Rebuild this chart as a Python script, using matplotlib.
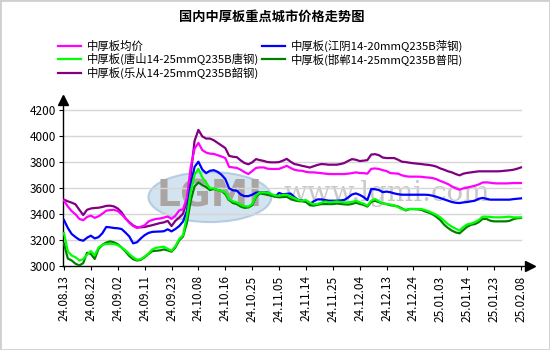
import matplotlib
matplotlib.use("Agg")
import matplotlib.pyplot as plt
from matplotlib.patches import Ellipse, Rectangle

plt.rcParams['font.family'] = ['Noto Sans CJK SC', 'DejaVu Sans']

title = "国内中厚板重点城市价格走势图"
tick_labels = ["24.08.13", "24.08.22", "24.09.02", "24.09.11", "24.09.23", "24.10.08",
               "24.10.16", "24.10.25", "24.11.05", "24.11.14", "24.11.25", "24.12.04",
               "24.12.13", "24.12.24", "25.01.03", "25.01.14", "25.01.23", "25.02.08"]
tick_step = 7

names = ["中厚板均价", "中厚板(唐山14-25mmQ235B唐钢)", "中厚板(乐从14-25mmQ235B韶钢)",
         "中厚板(江阴14-20mmQ235B萍钢)", "中厚板(邯郸14-25mmQ235B普阳)"]

avg = [3500, 3455, 3420, 3395, 3360, 3350, 3375, 3385, 3368, 3380, 3400, 3423, 3428, 3430, 3420, 3395, 3365, 3330, 3305, 3290,
       3300, 3310, 3340, 3352, 3360, 3363, 3370, 3378, 3360, 3385, 3425, 3435, 3520, 3760, 3900, 3945, 3890, 3870, 3862, 3860,
       3850, 3840, 3828, 3760, 3756, 3752, 3738, 3720, 3705, 3728, 3752, 3756, 3756, 3746, 3744, 3744, 3745, 3756, 3768, 3752,
       3738, 3732, 3730, 3722, 3718, 3718, 3715, 3712, 3708, 3705, 3705, 3705, 3705, 3705, 3708, 3712, 3718, 3713, 3712, 3708,
       3745, 3748, 3744, 3735, 3728, 3712, 3710, 3708, 3695, 3688, 3685, 3685, 3685, 3684, 3680, 3678, 3674, 3665, 3652, 3640,
       3628, 3610, 3595, 3585, 3595, 3600, 3608, 3615, 3625, 3640, 3641, 3638, 3634, 3633, 3633, 3633, 3634, 3636, 3636, 3636]

tangshan = [3250, 3110, 3078, 3065, 3040, 3050, 3085, 3112, 3080, 3140, 3160, 3167, 3167, 3166, 3158, 3140, 3118, 3090, 3065, 3046,
            3050, 3070, 3095, 3125, 3138, 3142, 3146, 3130, 3115, 3150, 3205, 3235, 3380, 3570, 3700, 3745, 3680, 3640, 3595, 3595,
            3582, 3576, 3564, 3512, 3495, 3487, 3470, 3458, 3455, 3474, 3540, 3564, 3564, 3562, 3551, 3540, 3538, 3544, 3546, 3532,
            3520, 3505, 3500, 3505, 3485, 3472, 3475, 3485, 3494, 3488, 3490, 3495, 3490, 3487, 3487, 3490, 3500, 3488, 3478, 3462,
            3500, 3513, 3495, 3480, 3474, 3470, 3465, 3450, 3435, 3430, 3436, 3436, 3436, 3436, 3428, 3418, 3405, 3390, 3372, 3345,
            3320, 3300, 3285, 3270, 3298, 3318, 3324, 3335, 3352, 3377, 3377, 3375, 3372, 3372, 3372, 3375, 3377, 3372, 3372, 3372]

lecong = [3508, 3495, 3485, 3472, 3430, 3390, 3430, 3440, 3444, 3446, 3452, 3460, 3462, 3456, 3440, 3410, 3365, 3335, 3310, 3295,
          3295, 3298, 3305, 3312, 3320, 3328, 3333, 3345, 3305, 3345, 3370, 3400, 3500, 3700, 3960, 4045, 3995, 3978, 3978, 3965,
          3945, 3925, 3905, 3845, 3838, 3835, 3810, 3790, 3780, 3795, 3820, 3812, 3806, 3797, 3795, 3795, 3797, 3808, 3822, 3800,
          3782, 3776, 3768, 3762, 3755, 3765, 3775, 3782, 3780, 3777, 3777, 3777, 3782, 3790, 3806, 3820, 3815, 3805, 3808, 3812,
          3855, 3858, 3850, 3832, 3828, 3828, 3828, 3815, 3800, 3797, 3792, 3788, 3785, 3782, 3778, 3775, 3770, 3762, 3748, 3738,
          3726, 3718, 3705, 3695, 3708, 3714, 3718, 3722, 3726, 3726, 3726, 3726, 3726, 3726, 3728, 3731, 3734, 3738, 3746, 3756]

jiangyin = [3351, 3290, 3244, 3220, 3200, 3192, 3215, 3231, 3210, 3220, 3250, 3298, 3295, 3290, 3288, 3282, 3255, 3225, 3172, 3180,
            3210, 3235, 3252, 3260, 3262, 3263, 3265, 3280, 3264, 3282, 3305, 3340, 3420, 3620, 3760, 3800, 3740, 3712, 3730, 3735,
            3722, 3700, 3667, 3595, 3580, 3577, 3548, 3535, 3535, 3546, 3562, 3564, 3564, 3564, 3545, 3532, 3560, 3548, 3553, 3555,
            3528, 3505, 3502, 3490, 3474, 3495, 3510, 3510, 3505, 3500, 3500, 3500, 3502, 3506, 3525, 3548, 3556, 3545, 3528, 3505,
            3590, 3588, 3582, 3566, 3570, 3565, 3556, 3550, 3546, 3546, 3546, 3546, 3546, 3546, 3546, 3544, 3538, 3530, 3520, 3510,
            3500, 3490, 3484, 3482, 3487, 3490, 3495, 3500, 3515, 3521, 3515, 3508, 3508, 3508, 3508, 3508, 3508, 3512, 3515, 3518]

handan = [3170, 3055, 3040, 3015, 3002, 3020, 3100, 3090, 3052, 3130, 3160, 3178, 3187, 3180, 3165, 3140, 3110, 3075, 3050, 3040,
          3045, 3065, 3090, 3112, 3115, 3118, 3125, 3118, 3108, 3140, 3195, 3225, 3330, 3500, 3610, 3640, 3620, 3605, 3582, 3590,
          3582, 3575, 3551, 3505, 3482, 3474, 3455, 3445, 3448, 3465, 3530, 3556, 3551, 3545, 3538, 3531, 3526, 3528, 3530, 3513,
          3503, 3497, 3495, 3492, 3465, 3462, 3468, 3474, 3474, 3474, 3474, 3478, 3475, 3472, 3470, 3475, 3485, 3475, 3468, 3455,
          3490, 3500, 3488, 3480, 3474, 3465, 3462, 3455, 3440, 3425, 3436, 3436, 3434, 3430, 3418, 3408, 3395, 3375, 3350, 3315,
          3290, 3270, 3256, 3249, 3275, 3300, 3315, 3320, 3335, 3360, 3360, 3346, 3341, 3341, 3341, 3341, 3345, 3358, 3365, 3367]

y_ticks = [3000, 3200, 3400, 3600, 3800, 4000, 4200]

colors = ["#FF00FF", "#00FF00", "#800080", "#0000FF", "#008000"]
series = [avg, tangshan, lecong, jiangyin, handan]

W, H = 550, 350
fig = plt.figure(figsize=(5.5, 3.5), dpi=100)
fig.patches.append(Rectangle((0, 0), 1, 1, transform=fig.transFigure, fill=False,
                             edgecolor="#cfcfcf", linewidth=2))

ax_l, ax_r, ax_b, ax_t = 63, 530, 265.7, 100
ax = fig.add_axes([ax_l / W, (H - ax_b) / H, (ax_r - ax_l) / W, (ax_b - ax_t) / H])

n = len(avg)
x = list(range(n))
px_per = (521 - 64) / (n - 1)
ax.set_xlim(-(64 - ax_l) / px_per, (ax_r - 64) / px_per)
ax.set_ylim(3000, 3000 + (ax_b - ax_t) * 200 / 26.0)

# watermark
ax.add_patch(Ellipse((38, 3528), 32, 385, facecolor="#c9dced", edgecolor="#aac4de",
                     linewidth=1.5, alpha=0.8, zorder=0))
ax.text(38, 3535, "LGMI", fontsize=27, fontweight="bold", color="#aaa5a2",
        ha="center", va="center", family="DejaVu Sans", zorder=0.5)
ax.text(84, 3555, "www.lgmi.com", fontsize=20, color="#c8c8c8",
        ha="center", va="center", family="DejaVu Serif", zorder=0.5)

for yv in y_ticks[1:]:
    ax.plot([0, n - 1], [yv, yv], color="#d6d6d6", linewidth=1, zorder=1)

order = [2, 0, 3, 4, 1]
lines = {}
for i in order:
    ln, = ax.plot(x, series[i], color=colors[i], linewidth=1.6, label=names[i], zorder=3)
    lines[i] = ln

for s in ["top", "right"]:
    ax.spines[s].set_visible(False)
ax.spines["left"].set_linewidth(1)
ax.spines["bottom"].set_linewidth(1)
ax.plot(1, 0, ">k", markersize=7, transform=ax.transAxes, clip_on=False)
ax.plot(0, 1, "^k", markersize=7, transform=ax.transAxes, clip_on=False)

ax.set_yticks(y_ticks)
ax.set_yticklabels([str(v) for v in y_ticks], fontsize=8.5)
ax.set_xticks(list(range(0, n, tick_step)))
ax.set_xticklabels(tick_labels, rotation=90, fontsize=8.5)
ax.tick_params(axis="both", direction="out", length=3, width=0.8, pad=2)
ax.tick_params(axis="x", pad=4)

fig.text(272 / W, 1 - 17 / H, title, ha="center", va="center", fontsize=9.5, fontweight="bold")

leg_handles = [lines[i] for i in [0, 1, 2, 3, 4]]
fig.legend(leg_handles, names, loc="upper left", bbox_to_anchor=(58 / W, 1 - 40 / H),
           ncol=2, frameon=False, fontsize=8.2, handlelength=2.0, handletextpad=0.5,
           labelspacing=0.12, columnspacing=0.3, borderaxespad=0, borderpad=0)

fig.savefig("out.png", dpi=100)
